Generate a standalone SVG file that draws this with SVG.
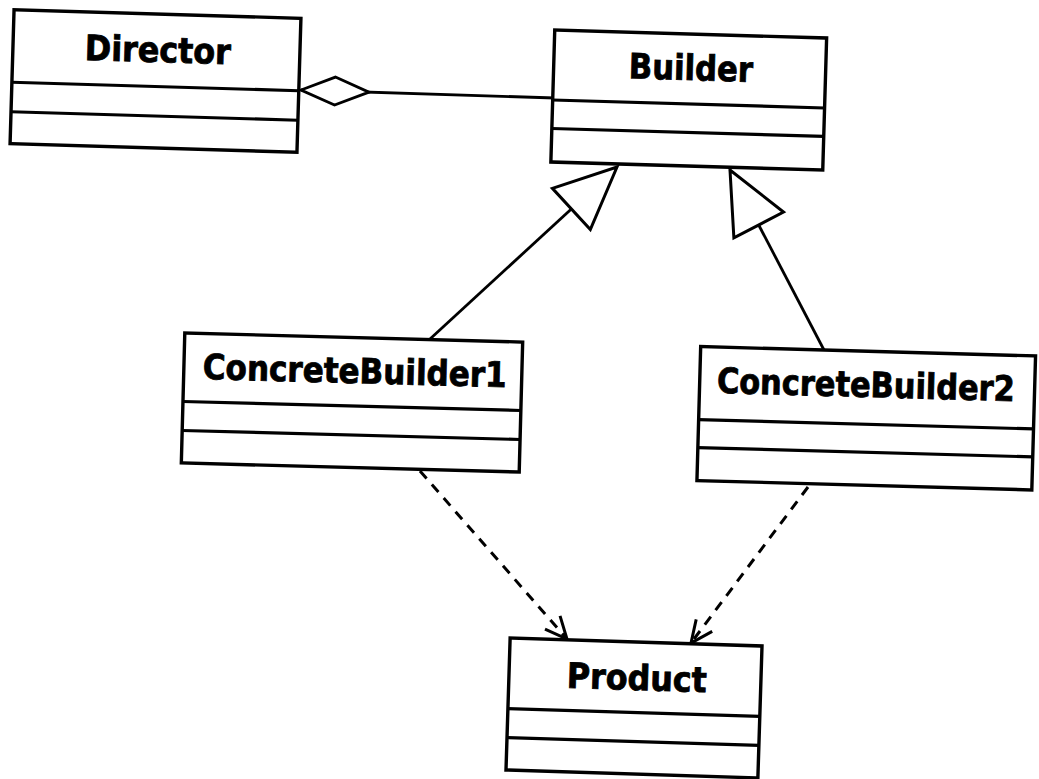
<svg xmlns="http://www.w3.org/2000/svg" width="1039" height="779" viewBox="0 0 1039 779">
<style>
  .box { fill: #ffffff; stroke: #000000; stroke-width: 3.4; }
  .div { stroke: #000000; stroke-width: 3.2; }
  .name { font-family: "DejaVu Sans Condensed", "DejaVu Sans", "Liberation Sans", sans-serif; font-weight: bold; font-size: 35px; fill: #000000; stroke: #000000; stroke-width: 0.8; text-anchor: middle; }
  .solid { fill: none; stroke: #000000; stroke-width: 2.8; }
  .dash { fill: none; stroke: #000000; stroke-width: 3; stroke-dasharray: 10 8; }
</style>
<defs>
  <marker id="tri" markerUnits="userSpaceOnUse" viewBox="0 0 62 56" refX="62" refY="28" markerWidth="62" markerHeight="56" orient="auto" overflow="visible">
    <path d="M0,0 L62,28 L0,56 Z" fill="#ffffff" stroke="#000000" stroke-width="3" stroke-linejoin="miter"/>
  </marker>
  <marker id="dia" markerUnits="userSpaceOnUse" viewBox="0 0 68 28" refX="68" refY="14" markerWidth="68" markerHeight="28" orient="auto" overflow="visible">
    <path d="M0,14 L34,0 L68,14 L34,28 Z" fill="#ffffff" stroke="#000000" stroke-width="2.8"/>
  </marker>
  <marker id="open" markerUnits="userSpaceOnUse" viewBox="0 0 22 20" refX="22" refY="10" markerWidth="22" markerHeight="20" orient="auto" overflow="visible">
    <path d="M0,0 L22,10 L0,20" fill="none" stroke="#000000" stroke-width="3" stroke-dasharray="none"/>
  </marker>
</defs>

<g id="connectors">
  <path id="agg" class="solid" d="M555,98 L301,90" marker-end="url(#dia)"/>
  <path id="gen1" class="solid" d="M430,339 L617,167" marker-end="url(#tri)"/>
  <path id="gen2" class="solid" d="M824,350 L730,170" marker-end="url(#tri)"/>
  <path id="dep1" class="dash" d="M420,471 L567,639" marker-end="url(#open)"/>
  <path id="dep2" class="dash" d="M808,487 L691,643" marker-end="url(#open)"/>
</g>

<g id="Director" transform="rotate(1.7 155.5 81)">
  <rect class="box" x="12" y="14" width="287" height="134"/>
  <line class="div" x1="12" y1="86.5" x2="299" y2="86.5"/>
  <line class="div" x1="12" y1="116" x2="299" y2="116"/>
  <text class="name" x="157" y="62" textLength="146" lengthAdjust="spacingAndGlyphs">Director</text>
</g>

<g id="Builder" transform="rotate(1.68 688.75 100)">
  <rect class="box" x="552.75" y="34" width="272" height="132"/>
  <line class="div" x1="552.75" y1="104" x2="824.75" y2="104"/>
  <line class="div" x1="552.75" y1="132.5" x2="824.75" y2="132.5"/>
  <text class="name" x="690" y="80" textLength="124" lengthAdjust="spacingAndGlyphs">Builder</text>
</g>

<g id="ConcreteBuilder1" transform="rotate(1.53 352 402.5)">
  <rect class="box" x="183" y="337.5" width="338" height="130"/>
  <line class="div" x1="183" y1="406" x2="521" y2="406"/>
  <line class="div" x1="183" y1="435" x2="521" y2="435"/>
  <text class="name" x="354" y="383" textLength="304" lengthAdjust="spacingAndGlyphs">ConcreteBuilder1</text>
</g>

<g id="ConcreteBuilder2" transform="rotate(1.6 866.25 418.25)">
  <rect class="box" x="698.75" y="351.25" width="335" height="134"/>
  <line class="div" x1="698.75" y1="424.25" x2="1033.75" y2="424.25"/>
  <line class="div" x1="698.75" y1="452.25" x2="1033.75" y2="452.25"/>
  <text class="name" x="865" y="397" font-size="34" textLength="298" lengthAdjust="spacingAndGlyphs">ConcreteBuilder2</text>
</g>

<g id="Product" transform="rotate(1.8 634 708)">
  <rect class="box" x="508" y="642" width="252" height="132"/>
  <line class="div" x1="508" y1="712.5" x2="760" y2="712.5"/>
  <line class="div" x1="508" y1="741.5" x2="760" y2="741.5"/>
  <text class="name" x="636" y="690" textLength="140" lengthAdjust="spacingAndGlyphs">Product</text>
</g>
</svg>
